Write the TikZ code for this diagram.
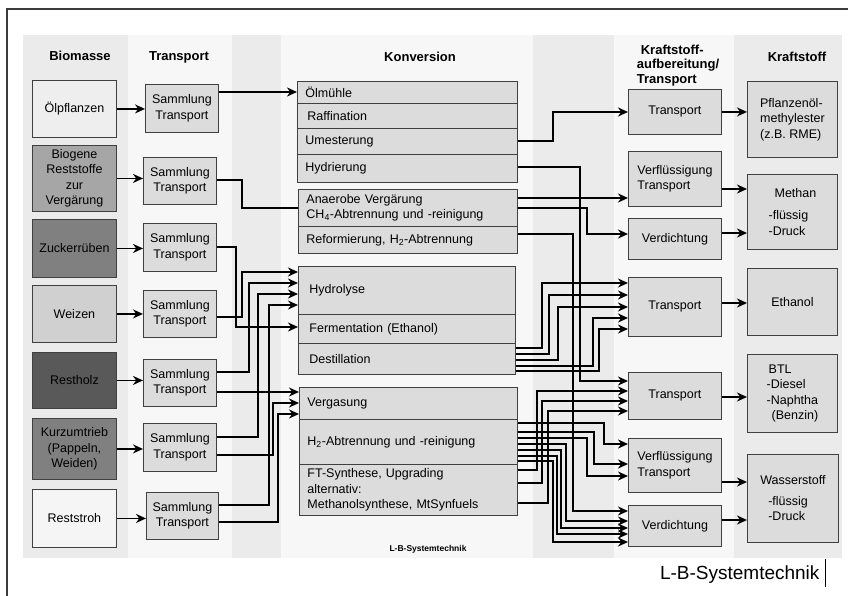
\documentclass[tikz,border=0pt]{standalone}
\usepackage{fontspec}
\setmainfont{Liberation Sans}
\usetikzlibrary{arrows.meta}
\definecolor{bandgray}{HTML}{EBEBEB}
\definecolor{bandlight}{HTML}{F7F7F7}
\definecolor{boxfill}{HTML}{DCDCDC}
\definecolor{boxline}{HTML}{404040}
\definecolor{framegray}{HTML}{3A3A3A}
\tikzset{
bmbox/.style={rectangle,draw=boxline,line width=0.9pt,align=center,inner sep=2pt,minimum width=84pt,anchor=north west},
trbox/.style={rectangle,draw=boxline,fill=boxfill,line width=0.9pt,align=center,inner sep=2pt,minimum width=73pt,minimum height=47pt,anchor=north west},
kvrow/.style={rectangle,draw=boxline,fill=boxfill,line width=0.9pt,align=left,inner xsep=8pt,inner ysep=1pt,anchor=north west},
kabox/.style={rectangle,draw=boxline,fill=boxfill,line width=0.9pt,align=left,inner sep=2pt,minimum width=93pt,anchor=north west},
ksbox/.style={rectangle,draw=boxline,fill=boxfill,line width=0.9pt,align=left,inner sep=2pt,minimum width=90pt,anchor=north west},
colhead/.style={font=\fontsize{13}{14.5}\selectfont\bfseries},
conn/.style={line width=1.8pt,-{Stealth[length=10pt,width=9pt]}},
wire/.style={line width=1.8pt},
framel/.style={draw=framegray,line width=1.2pt}
}
\begin{document}
\begin{tikzpicture}[
x=1pt,
y=-1pt,
every node/.style={font=\fontsize{12.5}{15.5}\selectfont}
]
\useasboundingbox (0,0) rectangle (848,596);
% frame and column bands
\draw[framel] (7,596) |- (848,9);
\fill[bandgray] (23,35) rectangle (128,558);
\fill[bandlight] (128,35) rectangle (232,558);
\fill[bandgray] (232,35) rectangle (281,558);
\fill[bandlight] (281,35) rectangle (533,558);
\fill[bandgray] (533,35) rectangle (614,558);
\fill[bandlight] (614,35) rectangle (734,558);
\fill[bandgray] (734,35) rectangle (842,558);
% column heads
\node[colhead] (hbio) at (80,56) {Biomasse};
\node[colhead] (htrans) at (179,57) {Transport};
\node[colhead] (hkonv) at (420,57) {Konversion};
\node[colhead,align=left] (hkauf) at (678,65.5) {\hspace*{4pt}Kraftstoff-\\aufbereitung/\\Transport};
\node[colhead] (hkraft) at (797,57) {Kraftstoff};
% biomass
\node[bmbox,fill={rgb,255:red,238;green,238;blue,238},minimum height=57pt] (oel) at (32,80) {Ölpflanzen};
\node[bmbox,fill={rgb,255:red,166;green,166;blue,166},minimum height=66pt] (biogen) at (32,145) {Biogene\\Reststoffe\\zur\\Vergärung};
\node[bmbox,fill={rgb,255:red,128;green,128;blue,128},minimum height=58pt] (zucker) at (32,219) {Zuckerrüben};
\node[bmbox,fill={rgb,255:red,208;green,208;blue,208},minimum height=57pt] (weizen) at (32,285) {Weizen};
\node[bmbox,fill={rgb,255:red,89;green,89;blue,89},minimum height=56pt] (holz) at (32,352) {Restholz};
\node[bmbox,fill={rgb,255:red,128;green,128;blue,128},minimum height=61pt] (kurz) at (32,418) {Kurzumtrieb\\(Pappeln,\\Weiden)};
\node[bmbox,fill={rgb,255:red,245;green,245;blue,245},minimum height=58pt] (stroh) at (32,489) {Reststroh};
% collection and transport
\node[trbox,minimum height=48pt] (toel) at (145,84) {Sammlung\\Transport};
\node[trbox] (tbiogen) at (143,157) {Sammlung\\Transport};
\node[trbox,minimum height=48pt] (tzucker) at (143,223) {Sammlung\\Transport};
\node[trbox] (tweizen) at (143,290) {Sammlung\\Transport};
\node[trbox] (tholz) at (143,359) {Sammlung\\Transport};
\node[trbox,minimum height=48pt] (tkurz) at (143,423) {Sammlung\\Transport};
\node[trbox,minimum width=72pt] (tstroh) at (146,492) {Sammlung\\Transport};
% conversion
\node[kvrow,text width=204pt,minimum height=22pt] (muehle) at (297,81) {Ölmühle};
\node[kvrow,text width=204pt,minimum height=25pt] (raff) at (297,103) {\hspace*{2pt}Raffination};
\node[kvrow,text width=204pt,minimum height=26pt] (umest) at (297,128) {Umesterung};
\node[kvrow,text width=204pt,minimum height=28pt] (hydr) at (297,154) {Hydrierung};
\node[kvrow,text width=203pt,minimum height=37pt] (anaer) at (298,189) {Anaerobe Vergärung\\CH\textsubscript{4}-Abtrennung und -reinigung};
\node[kvrow,text width=203pt,minimum height=27pt] (reform) at (298,226) {Reformierung, H\textsubscript{2}-Abtrennung};
\node[kvrow,inner xsep=11pt,text width=195pt,minimum height=48pt] (hydrol) at (298,266) {Hydrolyse};
\node[kvrow,inner xsep=11pt,text width=195pt,minimum height=29pt] (ferm) at (298,314) {Fermentation (Ethanol)};
\node[kvrow,inner xsep=11pt,text width=195pt,minimum height=31pt] (dest) at (298,343) {Destillation};
\node[kvrow,text width=202pt,minimum height=32pt] (vergas) at (299,387) {Vergasung};
\node[kvrow,text width=202pt,minimum height=45pt] (hzwei) at (299,419) {H\textsubscript{2}-Abtrennung und -reinigung};
\node[kvrow,text width=202pt,minimum height=51pt] (ft) at (299,464) {FT-Synthese, Upgrading\\alternativ:\\Methanolsynthese, MtSynfuels};
% fuel processing and transport
\node[kabox,align=center,minimum height=45pt] (ktoel) at (628,89) {Transport};
\node[kabox,minimum height=55pt] (kverfl) at (628,151) {Verflüssigung\\Transport};
\node[kabox,minimum height=41pt] (kverd) at (628,218) {Verdichtung};
\node[kabox,align=center,minimum height=59pt] (kethanol) at (628,277) {Transport};
\node[kabox,align=center,minimum height=47pt] (kbtl) at (628,372) {Transport};
\node[kabox,minimum height=54pt] (kverflh) at (628,438) {Verflüssigung\\Transport};
\node[kabox,minimum height=41pt] (kverdh) at (628,505) {Verdichtung};
% fuels
\node[ksbox,minimum height=76pt] (foel) at (747,81) {Pflanzenöl-\\methylester\\(z.B. RME)};
\node[ksbox,minimum height=75pt] (fmethan) at (747,174) {\hspace*{6pt}Methan\\[7pt]-flüssig\\-Druck};
\node[ksbox,align=center,minimum height=67pt] (fethanol) at (747,268) {Ethanol};
\node[ksbox,minimum height=78pt] (fbtl) at (747,354) {\hspace*{2pt}BTL\\-Diesel\\-Naphtha\\\hspace*{5pt}(Benzin)};
\node[ksbox,minimum width=91pt,minimum height=88pt] (fwasser) at (747,454) {Wasserstoff\\[5pt]\hspace*{8pt}-flüssig\\\hspace*{8pt}-Druck};
% signatures
\node[font=\fontsize{8.5}{10}\selectfont\bfseries] (lbsmall) at (428,549) {L-B-Systemtechnik};
\node[font=\fontsize{19}{22}\selectfont,anchor=east] (lbsign) at (823,575) {L-B-Systemtechnik};
\draw[line width=1pt] (825,559) -- (825,587);
% biomass to transport
\foreach \src/\dst in {oel/toel,biogen/tbiogen,zucker/tzucker,weizen/tweizen,holz/tholz,kurz/tkurz,stroh/tstroh}
  \draw[conn] (\src.east) -- (\src.east -| \dst.west);
% transport to conversion
\draw[conn] (toel.east |- 0,92) -- (muehle.west |- 0,92);
\draw[wire] (tbiogen.east |- 0,180) -| (242,208) -- (anaer.west |- 0,208);
\draw[conn] (tzucker.east |- 0,247) -| (236,327) -- (ferm.west |- 0,327);
\draw[conn] (tweizen.east |- 0,317) -| (242,272) -- (hydrol.west |- 0,272);
\draw[conn] (tholz.east |- 0,372) -| (249,283) -- (hydrol.west |- 0,283);
\draw[conn] (tkurz.east |- 0,437) -| (258,294) -- (hydrol.west |- 0,294);
\draw[conn] (tstroh.east |- 0,505) -| (269,305) -- (hydrol.west |- 0,305);
\draw[conn] (tholz.east |- 0,392) -- (vergas.west |- 0,392);
\draw[conn] (tkurz.east |- 0,455) -| (273,403) -- (vergas.west |- 0,403);
\draw[conn] (tstroh.east |- 0,522) -| (278,414) -- (vergas.west |- 0,414);
% conversion to fuel processing
\draw[conn] (umest.east |- 0,141) -| (553,112) -- (ktoel.west |- 0,112);
\draw[conn] (hydr.east |- 0,167) -| (580,381) -- (kbtl.west |- 0,381);
\draw[conn] (anaer.east |- 0,198) -- (kverfl.west |- 0,198);
\draw[conn] (anaer.east |- 0,208) -| (587,234) -- (kverd.west |- 0,234);
\draw[conn] (reform.east |- 0,234) -| (573,511) -- (kverdh.west |- 0,511);
\foreach \ya/\xm/\yb in {348/542/283,354/549/295,360/558/307,366/593/318,371/599/329}
  \draw[conn] (dest.east |- 0,\ya) -| (\xm,\yb) -- (kethanol.west |- 0,\yb);
\foreach \ya/\xm/\yb in {470/537/391,483/542/401,503/548/411}
  \draw[conn] (ft.east |- 0,\ya) -| (\xm,\yb) -- (kbtl.west |- 0,\yb);
\foreach \ya/\xm/\yb in {423/604/444,432/594/464,438/587/476}
  \draw[conn] (hzwei.east |- 0,\ya) -| (\xm,\yb) -- (kverflh.west |- 0,\yb);
\foreach \ya/\xm/\yb in {444/566/521,450/561/528,456/557/534,461/553/542}
  \draw[conn] (hzwei.east |- 0,\ya) -| (\xm,\yb) -- (kverdh.west |- 0,\yb);
% fuel processing to fuels
\draw[conn] (ktoel.east) -- (ktoel.east -| foel.west);
\draw[conn] (kverfl.east |- 0,189) -- (fmethan.west |- 0,189);
\draw[conn] (kverd.east |- 0,233) -- (fmethan.west |- 0,233);
\draw[conn] (kethanol.east |- 0,303) -- (fethanol.west |- 0,303);
\draw[conn] (kbtl.east |- 0,397) -- (fbtl.west |- 0,397);
\draw[conn] (kverflh.east |- 0,482) -- (fwasser.west |- 0,482);
\draw[conn] (kverdh.east |- 0,520) -- (fwasser.west |- 0,520);
\end{tikzpicture}
\end{document}
